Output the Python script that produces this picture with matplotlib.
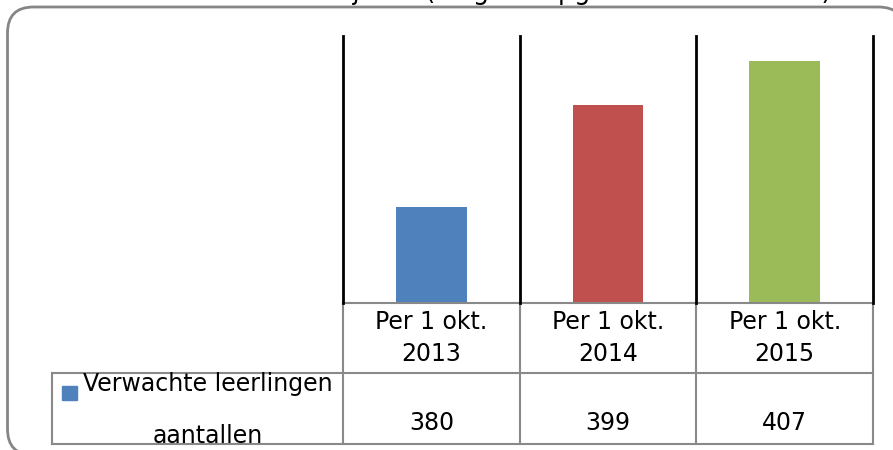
import numpy as np
import matplotlib
matplotlib.use("Agg")
import matplotlib.pyplot as plt
from matplotlib.patches import FancyBboxPatch, Rectangle

# data
categories = ["Per 1 okt.\n2013", "Per 1 okt.\n2014", "Per 1 okt.\n2015"]
values = [380, 399, 407]
colors = ["#4F81BD", "#C0504D", "#9BBB59"]
series_name = ["Verwachte leerlingen", "aantallen"]
title = "Aantallen komende jaren (volgens opgave van de school)"

W, H = 893, 450
grey = "#898989"
fs = 17

fig = plt.figure(figsize=(W / 100, H / 100), dpi=100)

# background axes in pixel units for the rounded chart frame
bg = fig.add_axes([0, 0, 1, 1], zorder=0)
bg.set_xlim(0, W)
bg.set_ylim(H, 0)
bg.axis("off")
bg.add_patch(FancyBboxPatch((7.5, 7), 897, 448, boxstyle="round,pad=0,rounding_size=26",
                            facecolor="white", edgecolor="#868686", lw=2))

# title, mostly above the top edge (only descenders show)
fig.text(831 / W, 1 + 1 / H, title, ha="right", va="baseline", fontsize=18.4)

# plot area
ax = fig.add_axes([343 / W, 1 - 303 / H, 530 / W, 267 / H], zorder=1)
ax.patch.set_alpha(0)
x = np.arange(len(values))
ax.bar(x, values, width=0.4, color=colors, zorder=2)
ax.set_xlim(-0.5, len(values) - 0.5)
ax.set_ylim(362.3, 411.7)
ax.set_xticks([])
ax.set_yticks([])
for s in ["left", "right", "top"]:
    ax.spines[s].set_visible(False)
ax.spines["bottom"].set_color(grey)
ax.spines["bottom"].set_linewidth(1.5)

bounds = np.arange(len(values) + 1) - 0.5
for b in bounds:
    ax.axvline(b, color="black", lw=2, zorder=3, clip_on=False)

# data table under the plot
tr = ax.get_xaxis_transform()
row1 = -70 / 267
row2 = -141 / 267
left = -0.5 - (343 - 52) / 176.7
for b in bounds:
    ax.plot([b, b], [0, row2], color=grey, lw=1.5, transform=tr, clip_on=False)
ax.plot([left, bounds[-1]], [row1, row1], color=grey, lw=1.5, transform=tr, clip_on=False)
ax.plot([left, bounds[-1]], [row2, row2], color=grey, lw=1.5, transform=tr, clip_on=False)
ax.plot([left, left], [row1, row2], color=grey, lw=1.5, transform=tr, clip_on=False)

for i, c in enumerate(categories):
    ax.text(i, -35 / 267, c, ha="center", va="center", fontsize=fs,
            linespacing=1.4, transform=tr)
for i, v in enumerate(values):
    ax.text(i, -127 / 267, str(v), ha="center", va="baseline", fontsize=fs, transform=tr)

# legend key and series name in the first column
lx = -0.5 - (343 - 62) / 176.7
ax.add_patch(Rectangle((lx, -97 / 267), 15 / 176.7, 14 / 267, transform=tr,
                       color=colors[0], clip_on=False))
cx = -0.5 - (343 - 208) / 176.7
ax.text(cx, -88 / 267, series_name[0], ha="center", va="baseline", fontsize=fs, transform=tr)
ax.text(cx, -140 / 267, series_name[1], ha="center", va="baseline", fontsize=fs, transform=tr)

fig.savefig("out.png", dpi=100)
